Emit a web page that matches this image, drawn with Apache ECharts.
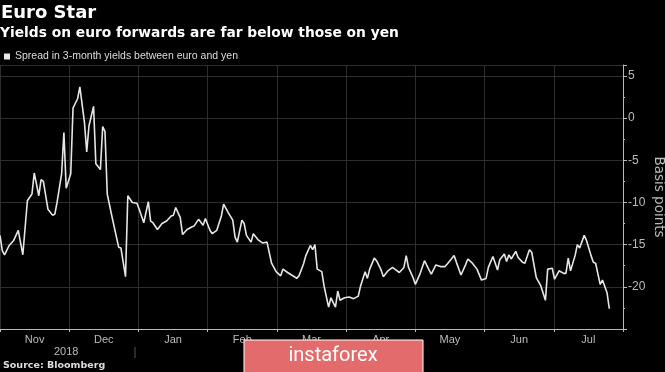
<!DOCTYPE html>
<html>
<head>
<meta charset="utf-8">
<script src="https://cdn.jsdelivr.net/npm/echarts@6/dist/echarts.min.js"></script>
<style>
html,body{margin:0;padding:0;background:#000;}
#chart{width:665px;height:372px;}
</style>
</head>
<body>
<div id="chart"></div>
<script>
// Days since 2017-11-01
const days = [0,1,2,4,6,8,10,12,14,15,
17,18,19,21,23,24,25,27,28,29,
31,32,34,35,37,38,39,41,42,44,
45,46,47,49,52,53,55,56,58,60,
61,63,65,66,67,69,71,73,75,76,
77,79,80,82,84,85,87,89,90,92,
93,95,97,98,100,102,103,104,106,107,
108,110,111,113,115,117,119,121,123,124,
126,129,130,131,133,134,136,137,138,139,
141,142,144,145,147,148,149,151,153,155,
157,158,160,161,162,164,165,167,168,170,
172,173,175,177,178,179,181,182,184,186,
188,189,191,193,195,196,199,200,202,204,
205,207,209,211,213,214,216,218,219,221,
222,223,224,226,227,229,230,232,233,235,
237,239,240,242,243,245,247,248,249,250,
252,253,254,256,257,259,260,261,263,264,
266,267];

// Spread in 3-month yields between euro and yen (basis points)
const spread = [-13.9,-15.7,-16.2,-15.1,-14.5,-13.3,-16.2,-9.8,-9.0,-6.5,
-9.2,-7.3,-7.5,-10.8,-11.5,-11.4,-10.0,-6.6,-1.7,-8.3,
-6.6,1.2,2.3,3.7,-0.5,-4.0,-0.9,1.4,-5.4,-6.1,
-1.0,-1.6,-9.0,-11.6,-15.3,-15.4,-18.8,-9.2,-10.0,-10.1,
-10.8,-12.4,-9.9,-12.2,-12.4,-13.2,-12.5,-12.2,-11.6,-11.5,
-10.6,-11.8,-13.8,-13.2,-12.9,-12.8,-12.0,-12.7,-11.9,-13.3,
-13.7,-13.3,-11.6,-10.2,-11.2,-12.1,-14.1,-14.7,-12.1,-12.5,
-13.9,-14.7,-13.7,-14.4,-14.8,-14.7,-17.2,-18.2,-18.7,-17.9,
-18.3,-18.8,-19.0,-18.7,-17.3,-16.3,-15.1,-15.6,-15.0,-17.9,
-18.2,-19.9,-22.4,-21.3,-22.4,-20.5,-21.6,-21.3,-21.2,-21.4,
-21.1,-19.9,-18.2,-19.0,-17.9,-16.6,-16.9,-18.0,-18.8,-18.1,
-17.7,-17.9,-18.3,-17.7,-16.3,-17.7,-18.9,-19.7,-18.5,-16.9,
-18.0,-18.5,-17.4,-17.6,-17.6,-17.3,-16.3,-17.1,-18.6,-17.4,
-16.7,-17.2,-17.9,-19.2,-19.0,-17.7,-16.4,-18.0,-16.8,-16.1,
-17.0,-16.2,-16.7,-15.8,-16.5,-17.1,-17.2,-15.6,-15.9,-18.9,
-19.9,-21.6,-17.9,-17.8,-19.1,-18.1,-18.4,-18.4,-16.6,-18.1,
-16.3,-15.0,-15.4,-13.9,-14.5,-16.3,-17.1,-17.2,-19.7,-19.2,
-20.7,-22.6];

const months = ['Nov','Dec','Jan','Feb','Mar','Apr','May','Jun','Jul'];
const yearLabel = '2018';
const seriesName = 'Spread in 3-month yields between euro and yen';

const DAY = 86400000;
const start = Date.UTC(2017, 10, 1);
const end = Date.UTC(2018, 7, 1);
const lineData = days.map((d, i) => [start + d * DAY, spread[i]]);

const chart = echarts.init(document.getElementById('chart'), null, {renderer: 'canvas'});
const font = 'Liberation Sans';
const boldFont = 'DejaVu Sans';
chart.setOption({
  backgroundColor: '#000',
  animation: false,
  textStyle: {fontFamily: font},
  title: [
    {text: 'Euro Star', left: 1, top: 4, padding: 0,
     textStyle: {color: '#fff', fontSize: 18, fontWeight: 'bold', fontFamily: boldFont}},
    {text: 'Yields on euro forwards are far below those on yen', left: 0, top: 26, padding: 0,
     textStyle: {color: '#fff', fontSize: 13.8, fontWeight: 'bold', fontFamily: boldFont}},
    {text: 'Source: Bloomberg', left: 3, top: 361, padding: 0,
     textStyle: {color: '#ddd', fontSize: 9.5, fontWeight: 'bold', fontFamily: boldFont}},
    {text: yearLabel, left: 54, top: 346, padding: 0,
     textStyle: {color: '#bbb', fontSize: 11, fontWeight: 'normal', fontFamily: font}}
  ],
  legend: {
    left: 4, top: 51, padding: 0, icon: 'rect', itemWidth: 6, itemHeight: 6,
    textStyle: {color: '#ddd', fontSize: 10.5, fontFamily: font},
    data: [seriesName]
  },
  grid: {left: 0, right: 42, top: 65, bottom: 43, containLabel: false, outerBoundsMode: 'none'},
  xAxis: [
    {type: 'time', min: start, max: end, show: false, position: 'bottom'},
    {type: 'category', data: months, position: 'bottom', boundaryGap: true,
     axisLine: {show: true, lineStyle: {color: '#bbb', width: 1}},
     axisTick: {show: true, length: 3, lineStyle: {color: '#bbb'}},
     axisLabel: {color: '#bbb', fontSize: 11, margin: 5, fontFamily: font},
     splitLine: {show: true, lineStyle: {color: '#2e2e2e', width: 1}}}
  ],
  yAxis: {
    type: 'value', position: 'right', min: -25, max: 6.3, interval: 5,
    name: 'Basis points', nameLocation: 'middle', nameRotate: -90, nameGap: 28,
    nameMoveOverlap: false,
    nameTextStyle: {color: '#bbb', fontSize: 13.5, fontFamily: 'DejaVu Sans'},
    axisLine: {show: true, lineStyle: {color: '#bbb', width: 1}},
    axisTick: {show: true, length: 4, inside: false, lineStyle: {color: '#bbb'}},
    minorTick: {show: true, splitNumber: 2, length: 2, lineStyle: {color: '#bbb'}},
    axisLabel: {color: '#bbb', fontSize: 12, margin: 5, fontFamily: font,
      formatter: v => (v === -25 ? '' : String(v))},
    splitLine: {show: true, lineStyle: {color: '#2e2e2e', width: 1}}
  },
  series: [{
    name: seriesName, type: 'line', xAxisIndex: 0, data: lineData,
    showSymbol: false, symbol: 'none',
    itemStyle: {color: '#e6e6e6'},
    lineStyle: {color: '#e6e6e6', width: 1.6}
  }],
  graphic: [
    {type: 'line', z: 100, shape: {x1: 135, y1: 347, x2: 135, y2: 358},
     style: {stroke: '#555', lineWidth: 1}},
    {type: 'rect', z: 100, shape: {x: 244, y: 340, width: 179, height: 40},
     style: {fill: '#e36b6b', stroke: '#ffffff', lineWidth: 1}},
    {type: 'text', z: 101, x: 333, y: 356,
     style: {text: 'instaforex', fill: '#fff', font: '20px Roboto', align: 'center', verticalAlign: 'middle'}}
  ]
});
</script>
</body>
</html>
